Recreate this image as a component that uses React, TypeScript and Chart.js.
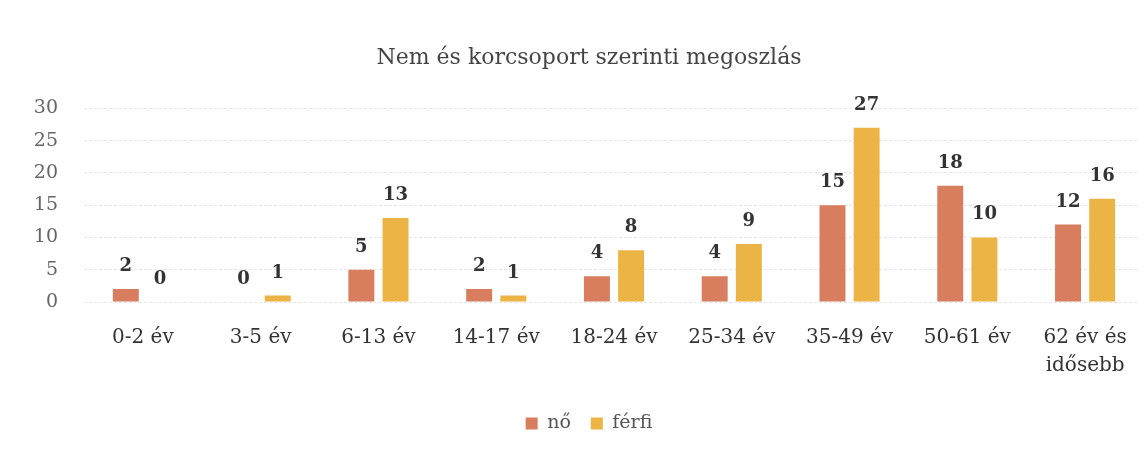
import React, { useEffect, useRef } from "react";
import { Chart, registerables } from "chart.js";

Chart.register(...registerables);

const categories: (string | string[])[] = [
  "0-2 év",
  "3-5 év",
  "6-13 év",
  "14-17 év",
  "18-24 év",
  "25-34 év",
  "35-49 év",
  "50-61 év",
  ["62 év és", "idősebb"],
];
const noValues = [2, 0, 5, 2, 4, 4, 15, 18, 12];
const ferfiValues = [0, 1, 13, 1, 8, 9, 27, 10, 16];
const seriesNames = ["nő", "férfi"];
const titleText = "Nem és korcsoport szerinti megoszlás";

const FONT = "'DejaVu Serif', 'Liberation Serif', serif";

const valueLabels = {
  id: "valueLabels",
  afterDatasetsDraw(chart: any) {
    const ctx = chart.ctx;
    ctx.save();
    ctx.font = `bold 18px ${FONT}`;
    ctx.fillStyle = "#333333";
    ctx.textAlign = "center";
    ctx.textBaseline = "alphabetic";
    chart.data.datasets.forEach((ds: any, i: number) => {
      const meta = chart.getDatasetMeta(i);
      meta.data.forEach((bar: any, j: number) => {
        ctx.fillText(String(ds.data[j]), bar.x, bar.y - 18);
      });
    });
    ctx.restore();
  },
};

export default function App() {
  const ref = useRef<HTMLCanvasElement>(null);
  useEffect(() => {
    if (!ref.current) return;
    const chart = new Chart(ref.current, {
      type: "bar",
      data: {
        labels: categories,
        datasets: [
          {
            label: seriesNames[0],
            data: noValues,
            backgroundColor: "#D87D5E",
            barPercentage: 0.76,
            categoryPercentage: 0.58,
          },
          {
            label: seriesNames[1],
            data: ferfiValues,
            backgroundColor: "#ECB445",
            barPercentage: 0.76,
            categoryPercentage: 0.58,
          },
        ],
      },
      options: {
        animation: false,
        responsive: false,
        maintainAspectRatio: false,
        layout: { padding: { left: 26, right: 2, top: 26, bottom: 11 } },
        plugins: {
          title: {
            display: true,
            text: titleText,
            color: "#444444",
            font: { family: FONT, size: 22, weight: "normal" },
            padding: { top: 11, bottom: 37 },
          },
          legend: {
            position: "bottom",
            labels: {
              color: "#555555",
              font: { family: FONT, size: 19 },
              boxWidth: 12,
              boxHeight: 12,
              padding: 20,
            },
          },
          tooltip: { enabled: false },
        },
        scales: {
          x: {
            grid: { display: false },
            border: { display: false },
            ticks: {
              color: "#333333",
              font: { family: FONT, size: 20, lineHeight: 1.4 },
              maxRotation: 0,
              padding: 14,
            },
          },
          y: {
            min: 0,
            max: 30,
            afterFit: (scale: any) => {
              scale.width = 50;
            },
            ticks: {
              stepSize: 5,
              color: "#666666",
              font: { family: FONT, size: 19 },
              padding: 26,
            },
            grid: { color: "#e6e6e6", drawTicks: false },
            border: { display: false, dash: [3, 2] },
          },
        },
      },
      plugins: [valueLabels],
    });
    return () => chart.destroy();
  }, []);
  return (
    <div style={{ width: 1138, height: 446 }}>
      <canvas ref={ref} width={1138} height={446} style={{ background: "#fff", display: "block" }} />
    </div>
  );
}
